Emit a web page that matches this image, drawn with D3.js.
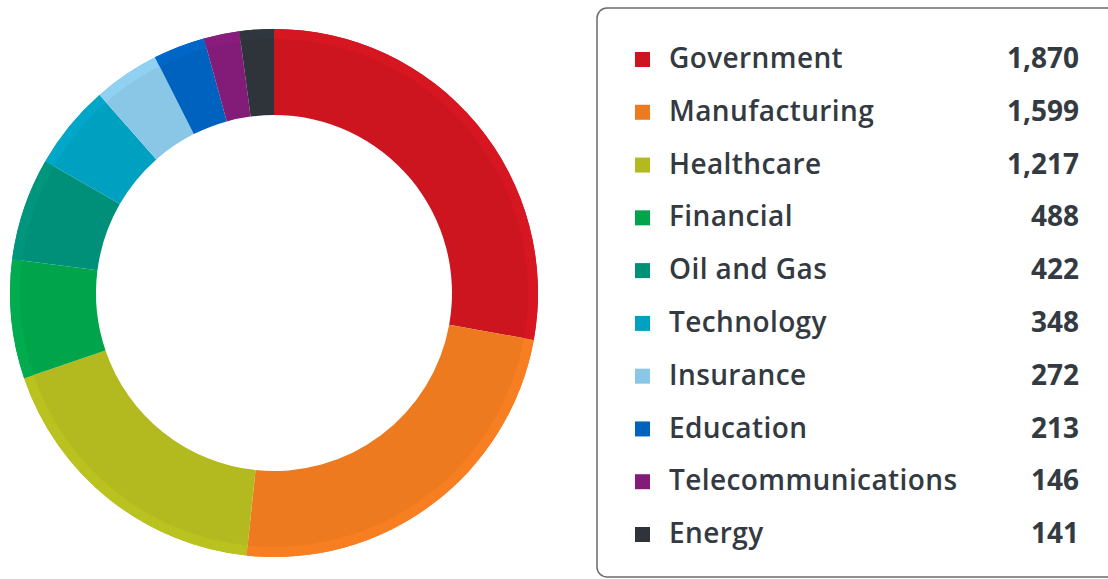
<!DOCTYPE html>
<meta charset="utf-8">
<title>Industry donut</title>
<style>
  body { margin: 0; background: #fff; }
  text { font-family: "Open Sans", sans-serif; fill: #333a41; }
</style>
<body>
<svg width="1108" height="579"></svg>
<script src="https://d3js.org/d3.v7.min.js"></script>
<script>
  const categories = ["Government", "Manufacturing", "Healthcare", "Financial", "Oil and Gas",
                      "Technology", "Insurance", "Education", "Telecommunications", "Energy"];
  const values = [1870, 1599, 1217, 488, 422, 348, 272, 213, 146, 141];
  const colors = ["#cd1520", "#ee7a20", "#b2ba1f", "#00a54b", "#009079",
                  "#00a0c0", "#8ac7e6", "#0062bf", "#831c78", "#2e343a"];

  const data = categories.map((c, i) => ({name: c, value: values[i], color: colors[i]}));

  const svg = d3.select("svg");
  const cx = 274, cy = 293, rOut = 264, rIn = 178;

  const pie = d3.pie().value(d => d.value).sort(null);
  const arcs = pie(data);

  const g = svg.append("g").attr("transform", `translate(${cx},${cy})`);

  // main ring
  g.selectAll("path.seg")
    .data(arcs)
    .enter().append("path")
    .attr("class", "seg")
    .attr("d", d3.arc().innerRadius(rIn).outerRadius(rOut))
    .attr("fill", d => d.data.color);

  // slightly lighter outer rim
  g.selectAll("path.rim")
    .data(arcs)
    .enter().append("path")
    .attr("class", "rim")
    .attr("d", d3.arc().innerRadius(rOut - 10).outerRadius(rOut))
    .attr("fill", d => d3.color(d.data.color).brighter(0.12));

  // legend
  svg.append("rect")
    .attr("x", 597).attr("y", 8)
    .attr("width", 540).attr("height", 569)
    .attr("rx", 10)
    .attr("fill", "#fff")
    .attr("stroke", "#6b6b6b")
    .attr("stroke-width", 1.5);

  const y = d3.scalePoint().domain(categories).range([58, 533]);

  const row = svg.selectAll("g.row")
    .data(data)
    .enter().append("g")
    .attr("class", "row")
    .attr("transform", d => `translate(0,${y(d.name)})`);

  row.append("rect")
    .attr("x", 635).attr("y", -6)
    .attr("width", 15).attr("height", 15)
    .attr("fill", d => d.color);

  row.append("text")
    .attr("x", 669).attr("dy", "0.36em")
    .attr("font-size", 28)
    .attr("font-weight", 600)
    .attr("letter-spacing", 0.4)
    .text(d => d.name);

  row.append("text")
    .attr("x", 1079).attr("dy", "0.36em")
    .attr("text-anchor", "end")
    .attr("font-size", 28)
    .attr("font-weight", 700)
    .text(d => d3.format(",")(d.value));
</script>
</body>
